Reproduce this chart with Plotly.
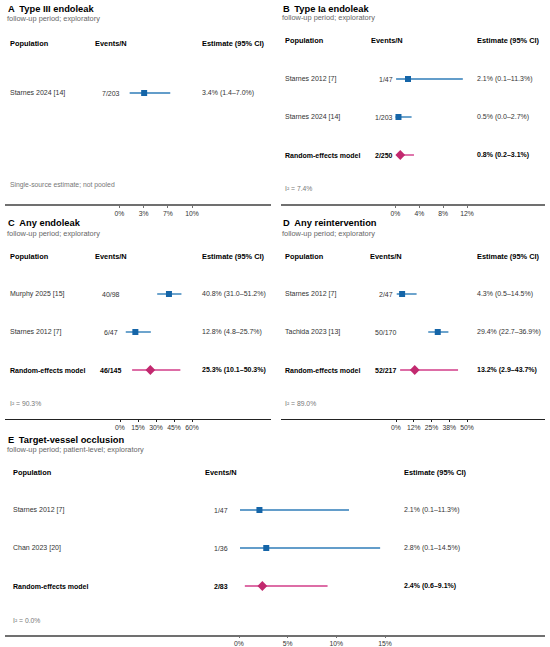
import plotly.graph_objects as go

W, H = 550, 647
FONT = "Liberation Sans, Arial, Helvetica, sans-serif"

# ---- data ----
# A  Type III endoleak
a_study = ["Starnes 2024 [14]"]
a_events = ["7/203"]
a_est = [3.4]
a_lo = [1.4]
a_hi = [7.0]
a_note = "Single-source estimate; not pooled"
a_ticks = [0, 10 / 3, 20 / 3, 10]
a_ticktext = ["0%", "3%", "7%", "10%"]

# B  Type Ia endoleak
b_study = ["Starnes 2012 [7]", "Starnes 2024 [14]"]
b_events = ["1/47", "1/203"]
b_est = [2.1, 0.5]
b_lo = [0.1, 0.0]
b_hi = [11.3, 2.7]
b_pool_events = "2/250"
b_pool = [0.8, 0.2, 3.1]
b_note = "I² = 7.4%"
b_ticks = [0, 4, 8, 12]
b_ticktext = ["0%", "4%", "8%", "12%"]

# C  Any endoleak
c_study = ["Murphy 2025 [15]", "Starnes 2012 [7]"]
c_events = ["40/98", "6/47"]
c_est = [40.8, 12.8]
c_lo = [31.0, 4.8]
c_hi = [51.2, 25.7]
c_pool_events = "46/145"
c_pool = [25.3, 10.1, 50.3]
c_note = "I² = 90.3%"
c_ticks = [0, 15, 30, 45, 60]
c_ticktext = ["0%", "15%", "30%", "45%", "60%"]

# D  Any reintervention
d_study = ["Starnes 2012 [7]", "Tachida 2023 [13]"]
d_events = ["2/47", "50/170"]
d_est = [4.3, 29.4]
d_lo = [0.5, 22.7]
d_hi = [14.5, 36.9]
d_pool_events = "52/217"
d_pool = [13.2, 2.9, 43.7]
d_note = "I² = 89.0%"
d_ticks = [0, 12.5, 25, 37.5, 50]
d_ticktext = ["0%", "12%", "25%", "38%", "50%"]

# E  Target-vessel occlusion
e_study = ["Starnes 2012 [7]", "Chan 2023 [20]"]
e_events = ["1/47", "1/36"]
e_est = [2.1, 2.8]
e_lo = [0.1, 0.1]
e_hi = [11.3, 14.5]
e_pool_events = "2/83"
e_pool = [2.4, 0.6, 9.1]
e_note = "I² = 0.0%"
e_ticks = [0, 5, 10, 15]
e_ticktext = ["0%", "5%", "10%", "15%"]

SUB = "follow-up period; exploratory"

panels = [
    dict(tag="A", title="Type III endoleak", sub=SUB, study=a_study, events=a_events,
         est=a_est, lo=a_lo, hi=a_hi, pool=None, pool_events=None, note=a_note,
         ticks=a_ticks, ticktext=a_ticktext,
         left=0, line=(5, 271), zero=119.5, tmax_px=192, top=0, bottom=204,
         first=93, head=43, note_y=185, title_y=8.5, sub_y=18.5, pop=9,
         ev=111, ev_anchor="center", es=201, lc="#707070", lw=1.6),
    dict(tag="B", title="Type Ia endoleak", sub=SUB, study=b_study, events=b_events,
         est=b_est, lo=b_lo, hi=b_hi, pool=b_pool, pool_events=b_pool_events, note=b_note,
         ticks=b_ticks, ticktext=b_ticktext,
         left=275, line=(281, 545), zero=395.5, tmax_px=467, top=0, bottom=204,
         first=79, head=41, note_y=188, title_y=8.5, sub_y=18, pop=9,
         ev=118, ev_anchor="right", es=201, lc="#707070", lw=1.6),
    dict(tag="C", title="Any endoleak", sub=SUB, study=c_study, events=c_events,
         est=c_est, lo=c_lo, hi=c_hi, pool=c_pool, pool_events=c_pool_events, note=c_note,
         ticks=c_ticks, ticktext=c_ticktext,
         left=0, line=(5, 271), zero=120, tmax_px=192, top=215, bottom=419,
         first=294, head=256, note_y=403, title_y=223.5, sub_y=233.5, pop=9,
         ev=111, ev_anchor="center", es=201, lc="#222222", lw=1),
    dict(tag="D", title="Any reintervention", sub=SUB, study=d_study, events=d_events,
         est=d_est, lo=d_lo, hi=d_hi, pool=d_pool, pool_events=d_pool_events, note=d_note,
         ticks=d_ticks, ticktext=d_ticktext,
         left=275, line=(281, 545), zero=396, tmax_px=467, top=215, bottom=419,
         first=294, head=256, note_y=403, title_y=223.5, sub_y=233.5, pop=9,
         ev=111, ev_anchor="center", es=201, lc="#222222", lw=1),
    dict(tag="E", title="Target-vessel occlusion", sub="follow-up period; patient-level; exploratory",
         study=e_study, events=e_events,
         est=e_est, lo=e_lo, hi=e_hi, pool=e_pool, pool_events=e_pool_events, note=e_note,
         ticks=e_ticks, ticktext=e_ticktext,
         left=0, line=(5, 545), zero=239, tmax_px=385, top=430, bottom=634.5,
         first=510, head=472, note_y=620, title_y=439.5, sub_y=449.5, pop=12,
         ev=221, ev_anchor="center", es=403, lc="#707070", lw=1.6),
]

ROW = 38.0  # px between rows
PAD = 1.5   # annotation box padding, compensated for left/right anchored text
BLUE, BLUE_LINE = "#1565a8", "#2f7db8"
PINK, PINK_LINE = "#c2296f", "#d23c88"


def px(x, anchor="center"):
    if anchor == "left":
        x -= PAD
    elif anchor == "right":
        x += PAD
    return x / W


def py(y):
    return 1 - y / H


def fmt(e, l, h):
    return f"{e:.1f}% ({l:.1f}–{h:.1f}%)"


fig = go.Figure()
ann = []
layout = {}

for k, p in enumerate(panels, start=1):
    sfx = "" if k == 1 else str(k)
    xr, yr = "x" + sfx, "y" + sfx
    n = len(p["study"])
    rows = list(range(1, n + 1))

    fig.add_trace(go.Scatter(
        x=p["est"], y=rows, xaxis=xr, yaxis=yr, mode="markers",
        marker=dict(symbol="square", size=6, color=BLUE),
        error_x=dict(type="data", symmetric=False,
                     array=[h - e for e, h in zip(p["est"], p["hi"])],
                     arrayminus=[e - l for e, l in zip(p["est"], p["lo"])],
                     width=0, thickness=1.4, color=BLUE_LINE),
        showlegend=False, hoverinfo="skip"))
    if p["pool"]:
        pe, pl, ph = p["pool"]
        fig.add_trace(go.Scatter(
            x=[pe], y=[n + 1], xaxis=xr, yaxis=yr, mode="markers",
            marker=dict(symbol="diamond", size=7.5, color=PINK, line=dict(width=0)),
            error_x=dict(type="data", symmetric=False, array=[ph - pe], arrayminus=[pe - pl],
                         width=0, thickness=1.4, color=PINK_LINE),
            showlegend=False, hoverinfo="skip"))

    scale = (p["tmax_px"] - p["zero"]) / max(p["ticks"])
    xl, xrt = p["line"]
    layout["xaxis" + sfx] = dict(
        domain=[xl / W, xrt / W], anchor=yr,
        range=[(xl - p["zero"]) / scale, (xrt - p["zero"]) / scale],
        showgrid=False, zeroline=False, showline=True, linecolor=p["lc"], linewidth=p["lw"],
        ticks="outside", ticklen=2, tickwidth=1, tickcolor=p["lc"],
        tickvals=p["ticks"], ticktext=p["ticktext"],
        tickfont=dict(family=FONT, size=6.8, color="#333333"), fixedrange=True)
    layout["yaxis" + sfx] = dict(
        domain=[py(p["bottom"]), py(p["top"])], anchor=xr, visible=False,
        range=[1 + (p["bottom"] - p["first"]) / ROW, 1 + (p["top"] - p["first"]) / ROW],
        fixedrange=True)

    L = p["left"]
    # titles
    ann.append(dict(text=f"<b>{p['tag']}\u2002{p['title']}</b>", x=px(L + 7, "left"), y=py(p["title_y"]),
                    xref="paper", yref="paper", xanchor="left", yanchor="middle", showarrow=False,
                    font=dict(family=FONT, size=9.3, color="#000000")))
    ann.append(dict(text=p["sub"], x=px(L + 6, "left"), y=py(p["sub_y"]),
                    xref="paper", yref="paper", xanchor="left", yanchor="middle", showarrow=False,
                    font=dict(family=FONT, size=7.4, color="#666666")))
    # headers
    ev_head = p["ev"] if p["ev_anchor"] == "center" else 112
    for txt, xx, anc in [("Population", p["pop"], "left"), ("Events/N", ev_head, "center"),
                         ("Estimate (95% CI)", p["es"], "left")]:
        ann.append(dict(text=f"<b>{txt}</b>", x=px(L + xx, anc), y=py(p["head"]),
                        xref="paper", yref="paper", xanchor=anc, yanchor="middle", showarrow=False,
                        font=dict(family=FONT, size=7.4, color="#000000")))
    # study rows
    for i, (s, ev, e, l, h) in enumerate(zip(p["study"], p["events"], p["est"], p["lo"], p["hi"]), start=1):
        for txt, xx, anc in [(s, p["pop"], "left"), (ev, p["ev"], p["ev_anchor"]),
                             (fmt(e, l, h), p["es"], "left")]:
            ann.append(dict(text=txt, x=px(L + xx, anc), y=i, xref="paper", yref=yr,
                            xanchor=anc, yanchor="middle", showarrow=False,
                            font=dict(family=FONT, size=7, color="#333333")))
    if p["pool"]:
        for txt, xx, anc in [("Random-effects model", p["pop"], "left"),
                             (p["pool_events"], p["ev"], p["ev_anchor"]),
                             (fmt(*p["pool"]), p["es"], "left")]:
            ann.append(dict(text=f"<b>{txt}</b>", x=px(L + xx, anc), y=n + 1, xref="paper", yref=yr,
                            xanchor=anc, yanchor="middle", showarrow=False,
                            font=dict(family=FONT, size=7, color="#000000")))
    ann.append(dict(text=p["note"], x=px(L + p["pop"], "left"), y=py(p["note_y"]),
                    xref="paper", yref="paper", xanchor="left", yanchor="middle", showarrow=False,
                    font=dict(family=FONT, size=6.8, color="#777777")))

fig.update_layout(
    width=W, height=H, margin=dict(l=0, r=0, t=0, b=0),
    paper_bgcolor="white", plot_bgcolor="white",
    annotations=ann, **layout)

# drop the browser's default 8px body margin so the figure sits at the page origin
fig.write_html("out.html", config={"displayModeBar": False},
               post_script="document.body.style.margin='0';")
